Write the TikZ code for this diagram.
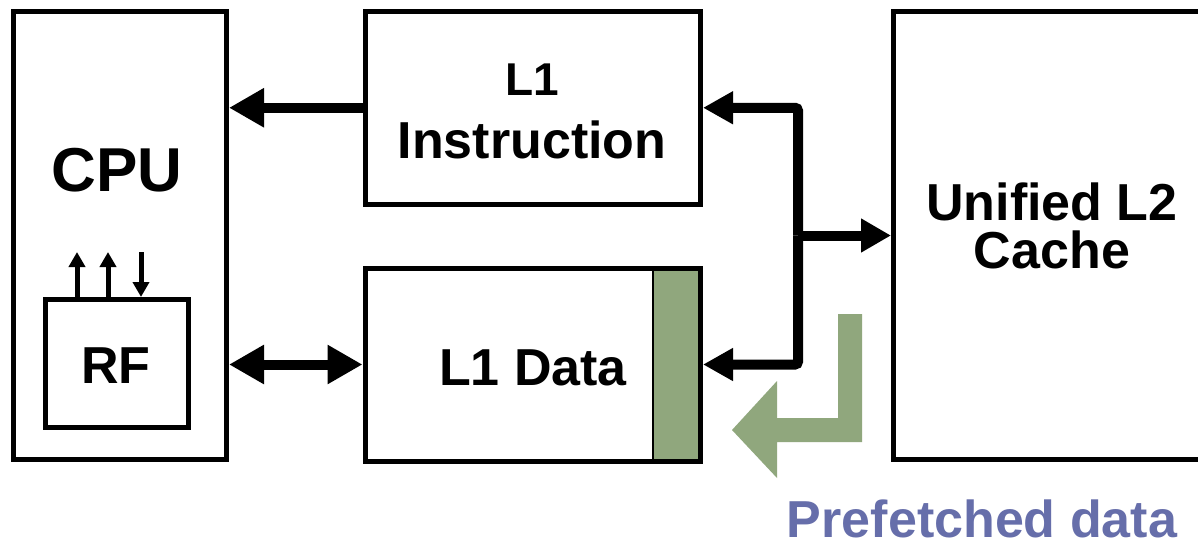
\documentclass[tikz,border=0pt]{standalone}
\usepackage{fontspec}
\setmainfont{Liberation Sans}
\usetikzlibrary{arrows.meta}
\definecolor{pfgreen}{RGB}{144,167,125}
\definecolor{pfblue}{RGB}{102,110,170}
\begin{document}
\begin{tikzpicture}[x=1pt,y=-1pt,
  box/.style={draw=black, line width=5pt, rectangle, inner sep=0pt},
  lbl/.style={inner sep=0pt, text=black},
  bigarrow/.style={line width=10pt, -{Triangle[length=35pt,width=37pt]}},
  dblarrow/.style={line width=10pt, {Triangle[length=35pt,width=37pt]}-{Triangle[length=35pt,width=37pt]}},
  busarrow/.style={line width=10pt, rounded corners=3pt, -{Triangle[length=30pt,width=31pt]}},
  smallarrow/.style={line width=5pt, -{Triangle[length=15pt,width=16pt]}},
]
\useasboundingbox[fill=white] (0,0) rectangle (1198,544);

% boxes
\node[box, minimum width=213pt, minimum height=448pt] (cpu) at (120,235.5) {};
\node[box, minimum width=143.5pt, minimum height=128pt] (rf) at (116.75,363.5) {};
\node[box, minimum width=335.5pt, minimum height=192.5pt] (l1i) at (532.75,107.75) {};
\node[draw=black, line width=1.5pt, fill=pfgreen, inner sep=0pt, minimum width=47.5pt, minimum height=193pt] (strip) at (676.75,364.5) {};
\node[box, minimum width=335.5pt, minimum height=193pt] (l1d) at (532.75,364.5) {};
\node[box, minimum width=316.5pt, minimum height=448pt] (l2) at (1051.75,235.5) {};

% labels
\node[lbl, font=\fontsize{62}{72}\selectfont\bfseries, anchor=base] (cpuT) at (117,191) {CPU};
\node[lbl, font=\fontsize{52}{62}\selectfont\bfseries, anchor=base] (rfT) at (116,383) {RF};
\node[lbl, font=\fontsize{52}{63}\selectfont\bfseries, align=center, anchor=base] (l1iT) at (532,158) {{\fontsize{46}{54}\selectfont L1}\\Instruction};
\node[lbl, font=\fontsize{52}{62}\selectfont\bfseries, anchor=base] (l1dT) at (533,385) {L1 Data};
\node[lbl, font=\fontsize{52}{48}\selectfont\bfseries, align=center, anchor=base] (l2T) at (1052,268) {Unified L2\\Cache};
\node[lbl, font=\fontsize{52}{62}\selectfont\bfseries, text=pfblue, text depth=0pt, anchor=base] (pfT) at (982,537) {Prefetched data};

% RF small arrows
\coordinate (a1) at (77,252);
\coordinate (a2) at (108,252);
\coordinate (a3) at (141,252);
\draw[smallarrow] (rf.north -| a1) -- (a1);
\draw[smallarrow] (rf.north -| a2) -- (a2);
\draw[smallarrow] (a3) -- (rf.north -| a3);

% CPU connections
\draw[bigarrow] (l1i.west) -- (cpu.east |- l1i.west);
\draw[dblarrow] (cpu.east |- l1d.west) -- (l1d.west);

% bus
\coordinate (bus) at (798,235.5);
\draw[busarrow] (bus) |- (l1i.east);
\draw[busarrow] (bus) |- (l1d.east);
\draw[line width=10pt, -{Triangle[length=30pt,width=32pt]}] (bus) -- (l2.west);

% green prefetch arrow
\fill[pfgreen] (838,314) -- (862,314) -- (862,442) -- (777,442) -- (777,478)
  -- (732,430) -- (777,381) -- (777,418) -- (838,418) -- cycle;
\end{tikzpicture}
\end{document}
